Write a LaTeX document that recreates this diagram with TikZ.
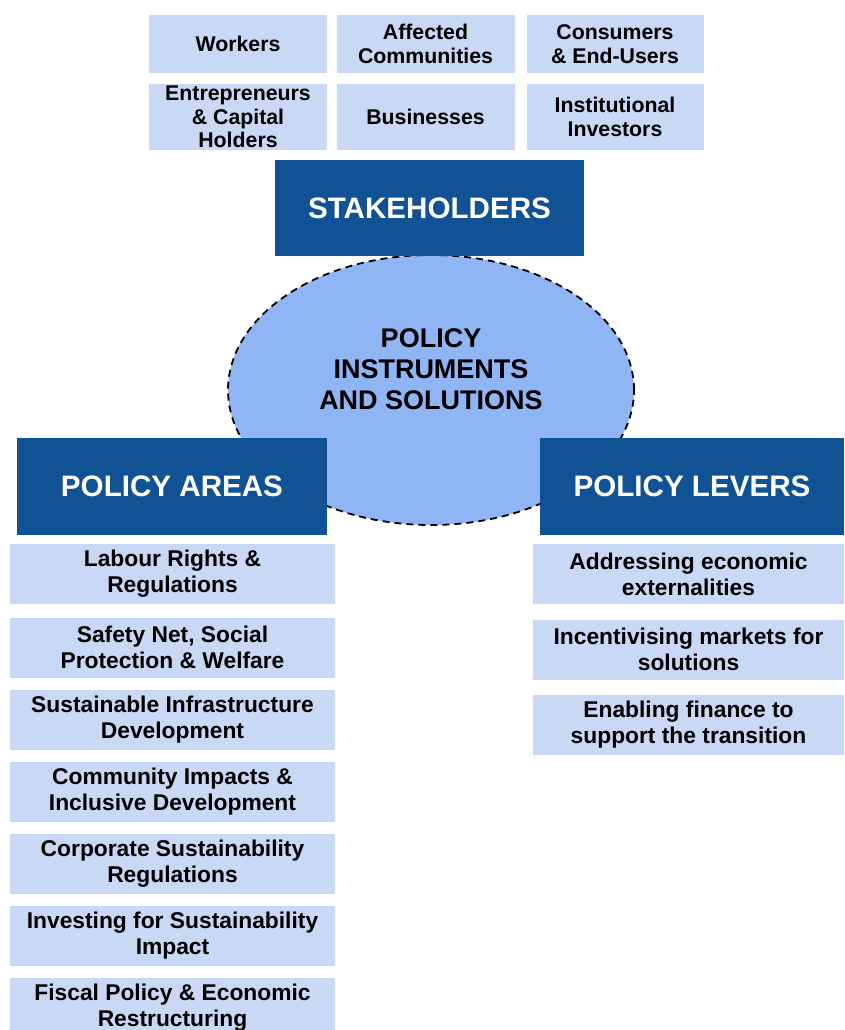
\documentclass[tikz,border=0pt]{standalone}
\usepackage{fontspec}
\setmainfont{Liberation Sans}
\usetikzlibrary{shapes.geometric}
\definecolor{headblue}{RGB}{16,82,148}
\definecolor{boxblue}{RGB}{201,217,245}
\definecolor{coreblue}{RGB}{143,181,245}

\begin{document}
\begin{tikzpicture}[x=1pt,y=-1pt]
\tikzstyle{every node}=[font=\bfseries]
\tikzstyle{group}=[fill=boxblue, align=center, inner sep=0pt,
  font=\fontsize{21.3}{23.5}\selectfont\bfseries]
\tikzstyle{item}=[fill=boxblue, align=center, inner sep=0pt,
  font=\fontsize{22.8}{26}\selectfont\bfseries]
\tikzstyle{head}=[fill=headblue, text=white, inner sep=0pt,
  font=\fontsize{29.6}{34}\selectfont\bfseries]

\useasboundingbox (0,0) rectangle (844,1030);
\clip (0,0) rectangle (844,1030);

% centre ellipse, behind the header boxes
\node[ellipse, draw=black, line width=1.8pt, dash pattern=on 7pt off 5pt,
  fill=coreblue, minimum width=406, minimum height=270] at (431,390) (core) {};
\node[align=center, font=\fontsize{27}{31}\selectfont\bfseries] at (431,369) (coretext)
  {POLICY\\INSTRUMENTS\\AND SOLUTIONS};

% stakeholders
\node[group, minimum width=178, minimum height=58] at (238,44) (workers) {Workers};
\node[group, minimum width=178, minimum height=58] at (425.5,44) (communities) {Affected\\Communities};
\node[group, minimum width=177, minimum height=58] at (615,44) (consumers) {Consumers\\\& End-Users};
\node[group, minimum width=178, minimum height=66] at (238,117) (entrepreneurs) {Entrepreneurs\\\& Capital\\Holders};
\node[group, minimum width=178, minimum height=66] at (425.5,117) (businesses) {Businesses};
\node[group, minimum width=177, minimum height=66] at (615,117) (investors) {Institutional\\Investors};

\node[head, minimum width=309, minimum height=96] at (429.5,208) (stake) {STAKEHOLDERS};

% policy areas
\node[head, minimum width=310, minimum height=97] at (172,486.5) (areas) {POLICY AREAS};
\node[item, minimum width=325, minimum height=60] at (172.5,574) (labour) {Labour Rights \&\\Regulations};
\node[item, minimum width=325, minimum height=60] at (172.5,647.5) (safety) {Safety Net, Social\\Protection \& Welfare};
\node[item, minimum width=325, minimum height=60] at (172.5,719.5) (infra) {Sustainable Infrastructure\\Development};
\node[item, minimum width=325, minimum height=60] at (172.5,791.5) (community) {Community Impacts \&\\Inclusive Development};
\node[item, minimum width=325, minimum height=60] at (172.5,863.5) (corporate) {Corporate Sustainability\\Regulations};
\node[item, minimum width=325, minimum height=60] at (172.5,935.5) (investing) {Investing for Sustainability\\Impact};
\node[item, minimum width=325, minimum height=60] at (172.5,1008) (fiscal) {Fiscal Policy \& Economic\\Restructuring};

% policy levers
\node[head, minimum width=304, minimum height=97] at (692,486.5) (levers) {POLICY LEVERS};
\node[item, minimum width=311, minimum height=60] at (688.5,574) (externalities) {Addressing economic\\externalities};
\node[item, minimum width=311, minimum height=60] at (688.5,649.5) (markets) {Incentivising markets for\\solutions};
\node[item, minimum width=311, minimum height=60] at (688.5,724.5) (finance) {Enabling finance to\\support the transition};

\end{tikzpicture}
\end{document}
